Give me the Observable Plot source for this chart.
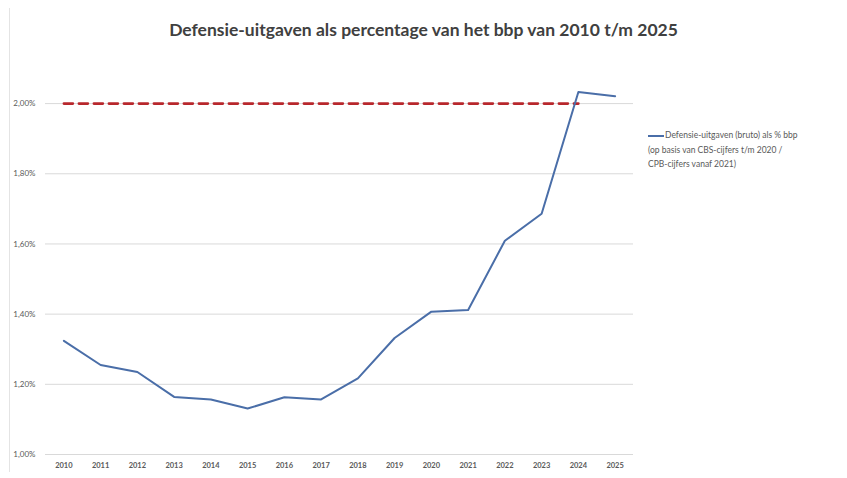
<!DOCTYPE html>
<html>
<head>
<meta charset="utf-8">
<script src="https://cdn.jsdelivr.net/npm/d3@7"></script>
<script src="https://cdn.jsdelivr.net/npm/@observablehq/plot@0.6"></script>
<style>
  body { margin: 0; background: #fff; font-family: Lato, "Open Sans", sans-serif; }
  #wrap { position: relative; width: 847px; height: 478px; overflow: hidden; }
  #title { height: 60px; line-height: 60px; text-align: center; font-weight: bold; font-size: 17.5px; color: #404040; }
  #legend { position: absolute; left: 648px; top: 128px; font-size: 8.5px; color: #595959; line-height: 14.5px; }
  #legend .sw { display: inline-block; width: 16px; height: 2px; background: #4a6ea8; vertical-align: middle; margin-right: 1px; }
  #border { position: absolute; left: 9px; top: 8px; width: 1px; height: 464px; background: #e4e4e4; }
</style>
</head>
<body>
<div id="wrap">
  <div id="border"></div>
  <div id="title">Defensie-uitgaven als percentage van het bbp van 2010 t/m 2025</div>
  <div id="chart"></div>
  <div id="legend"><span class="sw"></span>Defensie-uitgaven (bruto) als % bbp<br>(op basis van CBS-cijfers t/m 2020 /<br>CPB-cijfers vanaf 2021)</div>
</div>
<script>
const years = [2010, 2011, 2012, 2013, 2014, 2015, 2016, 2017, 2018, 2019, 2020, 2021, 2022, 2023, 2024, 2025];
const defensie = [1.324, 1.255, 1.235, 1.164, 1.157, 1.131, 1.163, 1.157, 1.217, 1.332, 1.407, 1.412, 1.609, 1.686, 2.033, 2.021];
const normYears = [2010, 2024];
const normValue = [2.0, 2.0];
const yTicks = [1.0, 1.2, 1.4, 1.6, 1.8, 2.0];

const series = years.map((y, i) => ({year: y, value: defensie[i]}));
const norm = normYears.map((y, i) => ({year: y, value: normValue[i]}));
const fmt = v => v.toFixed(2).replace(".", ",") + "%";

const chart = Plot.plot({
  width: 847,
  height: 418,
  marginLeft: 45,
  marginRight: 214,
  marginTop: 8,
  marginBottom: 24,
  style: {fontFamily: "Lato, 'Open Sans', sans-serif", background: "transparent"},
  x: {domain: [2009.5, 2025.5], ticks: years, tickFormat: d => String(d), label: null, tickSize: 0, tickPadding: 8},
  y: {domain: [1.0, 2.1], ticks: yTicks, tickFormat: fmt, label: null, tickSize: 0, tickPadding: 10},
  marks: [
    Plot.gridY(yTicks, {stroke: "#d9d9d9", strokeOpacity: 1, strokeWidth: 1}),
    Plot.axisX({ticks: years, tickFormat: d => String(d), tickSize: 0, tickPadding: 8, fontSize: 7.5, fontWeight: "bold", fill: "#595959", label: null}),
    Plot.axisY({ticks: yTicks, tickFormat: fmt, tickSize: 0, tickPadding: 10, fontSize: 8, fill: "#595959", label: null}),
    Plot.line(norm, {x: "year", y: "value", stroke: "#b8272c", strokeWidth: 2.6, strokeDasharray: "9,6"}),
    Plot.line(series, {x: "year", y: "value", stroke: "#4a6ea8", strokeWidth: 2})
  ]
});
document.getElementById("chart").appendChild(chart);
</script>
</body>
</html>
